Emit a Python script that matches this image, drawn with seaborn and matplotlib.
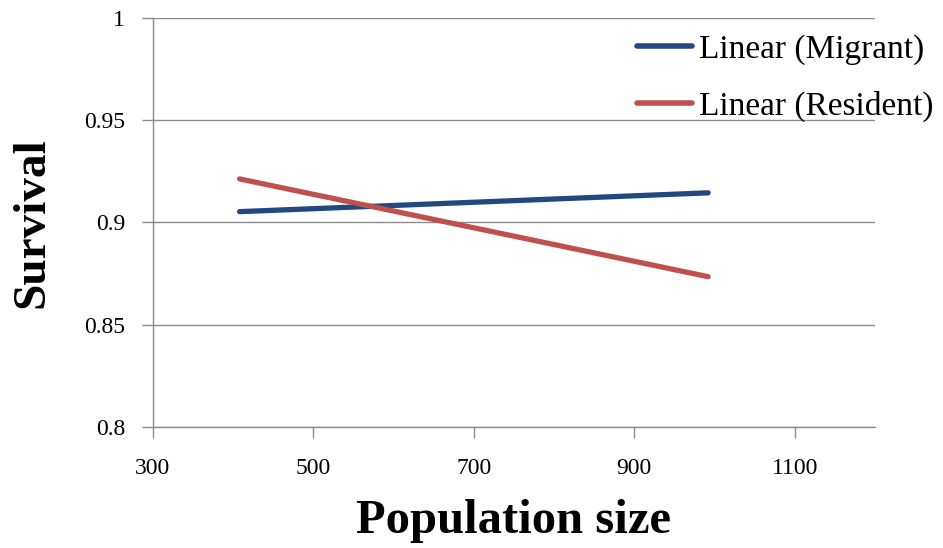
import matplotlib
matplotlib.use("Agg")
import matplotlib.pyplot as plt
import seaborn as sns
import pandas as pd

# Fitted linear trends of survival against population size
pop_range = [408, 992]
migrant_survival = [0.9053, 0.9145]
resident_survival = [0.9213, 0.8735]
series_names = ["Linear (Migrant)", "Linear (Resident)"]
x_ticks = [300, 500, 700, 900, 1100]
y_ticks = [0.8, 0.85, 0.9, 0.95, 1.0]
y_tick_labels = ["0.8", "0.85", "0.9", "0.95", "1"]

df = pd.DataFrame({
    "Population size": pop_range * 2,
    "Survival": migrant_survival + resident_survival,
    "Series": [series_names[0]] * 2 + [series_names[1]] * 2,
})

sns.set_theme(style="white")
plt.rcParams["font.family"] = ["Liberation Serif", "DejaVu Serif"]
plt.rcParams["text.color"] = "black"
plt.rcParams["axes.labelcolor"] = "black"

fig = plt.figure(figsize=(9.43, 5.48), dpi=100)
ax = fig.add_axes([0.1622, 0.2208, 0.7657, 0.7464])

palette = {series_names[0]: "#21497f", series_names[1]: "#c0504d"}
sns.lineplot(data=df, x="Population size", y="Survival", hue="Series",
             palette=palette, linewidth=3.8, ax=ax)

ax.set_xlim(300, 1200)
ax.set_ylim(0.8, 1.0)
ax.set_xticks(x_ticks)
ax.set_xticklabels([str(t) for t in x_ticks], fontsize=17)
ax.set_yticks(y_ticks)
ax.set_yticklabels(y_tick_labels, fontsize=17)
ax.grid(axis="y", color="#8c8c8c", linewidth=1)
ax.set_axisbelow(True)

for side in ["top", "right"]:
    ax.spines[side].set_visible(False)
for side in ["left", "bottom"]:
    ax.spines[side].set_color("#8c8c8c")
    ax.spines[side].set_linewidth(1)

ax.tick_params(axis="both", which="major", direction="out", length=8,
               width=1, color="#8c8c8c", labelcolor="black",
               bottom=True, left=True)
ax.tick_params(axis="x", pad=14)
ax.tick_params(axis="y", pad=12)

ax.set_xlabel("Population size", fontsize=35, fontweight="bold", labelpad=15)
ax.set_ylabel("Survival", fontsize=34, fontweight="bold", labelpad=22)

leg = ax.legend(loc="upper right", bbox_to_anchor=(1.122, 1.034), frameon=False,
                fontsize=24, handlelength=1.65, handletextpad=0.2,
                labelspacing=0.78)
for line in leg.get_lines():
    line.set_linewidth(4)

fig.savefig("out.png", dpi=100, facecolor="white")
